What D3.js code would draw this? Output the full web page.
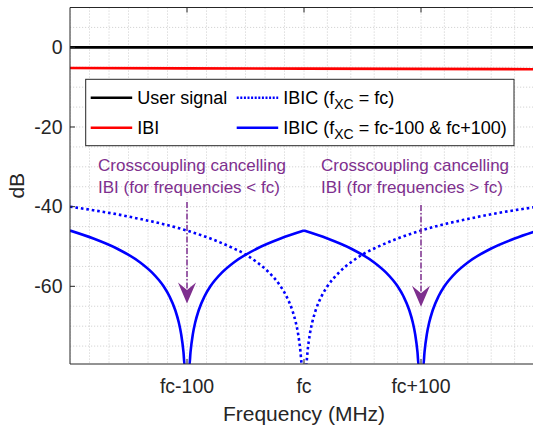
<!DOCTYPE html>
<html>
<head>
<meta charset="utf-8">
<script src="https://cdn.jsdelivr.net/npm/d3@7"></script>
<style>
  body { margin: 0; background: #fff; }
  text { font-family: "Liberation Sans", Arial, Helvetica, sans-serif; }
</style>
</head>
<body>
<script>
// Frequency offset from fc (MHz) and level (dB)
const userFreq = [-200, 200];
const userDb = [0, 0];

const ibiFreq = [-200, 0, 200];
const ibiDb = [-5.2, -5.35, -5.5];

// IBIC, crosscoupling at fc (dotted)
const ibicFcFreq = [-200, -180, -160, -140, -120, -100, -80, -60, -50, -40, -30, -20, -15, -10, -7, -5, -3, -2,
  2, 3, 5, 7, 10, 15, 20, 30, 40, 50, 60, 80, 100, 120, 140, 160, 180, 200];
const ibicFcDb = [-40.0, -40.9, -41.9, -43.1, -44.4, -46.0, -48.0, -50.5, -52.0, -54.0, -56.5, -60.0, -62.5, -66.0, -69.1, -72.0, -76.5, -80.0,
  -80.0, -76.5, -72.0, -69.1, -66.0, -62.5, -60.0, -56.5, -54.0, -52.0, -50.5, -48.0, -46.0, -44.4, -43.1, -41.9, -40.9, -40.0];

// IBIC, crosscoupling at fc-100 & fc+100 (solid)
const ibicSideFreq = [-200, -180, -160, -140, -130, -120, -115, -110, -107, -105, -103, -102, -98, -97, -95, -93, -90, -85, -80, -70, -60, -40, -20, 0,
  20, 40, 60, 70, 80, 85, 90, 93, 95, 97, 98, 102, 103, 105, 107, 110, 115, 120, 130, 140, 160, 180, 200];
const ibicSideDb = [-46.0, -48.0, -50.5, -54.0, -56.5, -60.0, -62.5, -66.0, -69.1, -72.0, -76.5, -80.0, -80.0, -76.5, -72.0, -69.1, -66.0, -62.5, -60.0, -56.5, -54.0, -50.5, -48.0, -46.0,
  -48.0, -50.5, -54.0, -56.5, -60.0, -62.5, -66.0, -69.1, -72.0, -76.5, -80.0, -80.0, -76.5, -72.0, -69.1, -66.0, -62.5, -60.0, -56.5, -54.0, -50.5, -48.0, -46.0];

const xTickValues = [-100, 0, 100];
const xTickLabels = ["fc-100", "fc", "fc+100"];
const yTickValues = [0, -20, -40, -60];

// Annotations: arrow position (MHz) and arrow start / tip (dB)
const noteText = [
  ["Crosscoupling cancelling", "IBI (for frequencies < fc)"],
  ["Crosscoupling cancelling", "IBI (for frequencies > fc)"]
];
const noteArrowFreq = [-100, 100];
const noteArrowFrom = [-38.8, -39.6];
const noteArrowTo = [-64.3, -65.1];

const purple = "#7E2F8E";
const blue = "#0000FF";
const axisColor = "#262626";

// Plot area
const W = 533, H = 430;
const plot = { left: 70, right: 538, top: 7.5, bottom: 364 };

const svg = d3.select("body")
  .append("svg")
  .attr("width", W)
  .attr("height", H);

const x = d3.scaleLinear().domain([-200, 200]).range([plot.left, plot.right]);
const y = d3.scaleLinear().domain([-79.5, 10]).range([plot.bottom, plot.top]);

svg.append("defs")
  .append("clipPath")
  .attr("id", "clip")
  .append("rect")
  .attr("x", plot.left)
  .attr("y", plot.top)
  .attr("width", plot.right - plot.left)
  .attr("height", plot.bottom - plot.top);

// Dotted grid (minor spacing differs on each side of fc in the original)
const xGrid = d3.range(-200, -0.1, 100 / 6).concat(d3.range(0, 201, 20));
const yGrid = d3.range(-75, 10, 5);

const grid = svg.append("g")
  .attr("clip-path", "url(#clip)")
  .style("stroke", "#c9c9c9")
  .style("stroke-width", 0.8)
  .style("stroke-dasharray", "1.2,1.8");

grid.selectAll(".gx")
  .data(xGrid)
  .enter()
  .append("line")
  .attr("x1", (d) => x(d))
  .attr("x2", (d) => x(d))
  .attr("y1", plot.top)
  .attr("y2", plot.bottom);

grid.selectAll(".gy")
  .data(yGrid)
  .enter()
  .append("line")
  .attr("x1", plot.left)
  .attr("x2", plot.right)
  .attr("y1", (d) => y(d))
  .attr("y2", (d) => y(d));

// Lines
const toPoints = (fs, vs) => fs.map((f, i) => ({ f: f, v: vs[i] }));
const line = d3.line().x((d) => x(d.f)).y((d) => y(d.v)).curve(d3.curveMonotoneX);
const lines = svg.append("g").attr("clip-path", "url(#clip)").style("fill", "none");

const drawCurve = (pts, color, dash) => {
  lines.append("path")
    .datum(pts)
    .attr("d", line)
    .style("stroke", color)
    .style("stroke-width", 2.6)
    .style("stroke-dasharray", dash);
};

drawCurve(toPoints(userFreq, userDb), "#000", null);
drawCurve(toPoints(ibiFreq, ibiDb), "#FF0000", null);

// split the curves at fc so the cusp stays sharp
const fcPts = toPoints(ibicFcFreq, ibicFcDb);
drawCurve(fcPts.filter((d) => d.f < 0), blue, "2.6,2.9");
drawCurve(fcPts.filter((d) => d.f > 0), blue, "2.6,2.9");

const sidePts = toPoints(ibicSideFreq, ibicSideDb);
drawCurve(sidePts.filter((d) => d.f <= 0), blue, null);
drawCurve(sidePts.filter((d) => d.f >= 0), blue, null);

// Annotations
const noteX = [98, 321];
noteText.forEach((lns, i) => {
  const t = svg.append("text")
    .attr("x", noteX[i])
    .attr("y", 170.7)
    .style("font-size", "17px")
    .style("fill", purple);
  lns.forEach((s, j) => {
    t.append("tspan").attr("x", noteX[i]).attr("dy", j === 0 ? 0 : 22).text(s);
  });

  const ax = x(noteArrowFreq[i]);
  const tip = y(noteArrowTo[i]);
  svg.append("line")
    .attr("x1", ax)
    .attr("x2", ax)
    .attr("y1", y(noteArrowFrom[i]))
    .attr("y2", tip - 14)
    .style("stroke", purple)
    .style("stroke-width", 1.5)
    .style("stroke-dasharray", "6,2,1.5,2");
  svg.append("path")
    .attr("d", `M${ax},${tip} L${ax - 9},${tip - 21} L${ax},${tip - 13.5} L${ax + 9},${tip - 21} Z`)
    .style("fill", purple);
});

// Legend
const legend = svg.append("g");
legend.append("rect")
  .attr("x", 85.7)
  .attr("y", 79.3)
  .attr("width", 428.3)
  .attr("height", 66.4)
  .style("fill", "#fff")
  .style("stroke", axisColor)
  .style("stroke-width", 1);

const legendItems = [
  { color: "#000", dash: null, x: 90.7, y: 97.7, parts: ["User signal"] },
  { color: "#FF0000", dash: null, x: 90.7, y: 127.7, parts: ["IBI"] },
  { color: blue, dash: "2,1.6", x: 236.7, y: 97.7, parts: ["IBIC (f", "XC", " = fc)"] },
  { color: blue, dash: null, x: 236.7, y: 127.7, parts: ["IBIC (f", "XC", " = fc-100 & fc+100)"] }
];

legendItems.forEach((d) => {
  legend.append("line")
    .attr("x1", d.x)
    .attr("x2", d.x + 41.5)
    .attr("y1", d.y)
    .attr("y2", d.y)
    .style("stroke", d.color)
    .style("stroke-width", 2.6)
    .style("stroke-dasharray", d.dash);
  const t = legend.append("text")
    .attr("x", d.x + 46.5)
    .attr("y", d.y + 6.3)
    .style("font-size", "18px")
    .style("fill", "#000");
  d.parts.forEach((p, i) => {
    const sp = t.append("tspan").text(p).attr("xml:space", "preserve").style("white-space", "pre");
    if (i === 1) sp.style("font-size", "14px").attr("dy", 4.5);
    if (i === 2) sp.attr("dy", -4.5);
  });
});

// Axes box and ticks
const axes = svg.append("g").style("stroke", axisColor).style("stroke-width", 1);
axes.append("line").attr("x1", plot.left).attr("x2", plot.right).attr("y1", plot.top).attr("y2", plot.top);
axes.append("line").attr("x1", plot.left).attr("x2", plot.right).attr("y1", plot.bottom).attr("y2", plot.bottom);
axes.append("line").attr("x1", plot.left).attr("x2", plot.left).attr("y1", plot.top).attr("y2", plot.bottom);

xTickValues.forEach((v) => {
  axes.append("line").attr("x1", x(v)).attr("x2", x(v)).attr("y1", plot.bottom).attr("y2", plot.bottom - 5);
  axes.append("line").attr("x1", x(v)).attr("x2", x(v)).attr("y1", plot.top).attr("y2", plot.top + 5);
});
yTickValues.forEach((v) => {
  axes.append("line").attr("x1", plot.left).attr("x2", plot.left + 5).attr("y1", y(v)).attr("y2", y(v));
});

svg.selectAll(".xlab")
  .data(xTickValues)
  .enter()
  .append("text")
  .attr("x", (d) => x(d))
  .attr("y", 393.3)
  .attr("text-anchor", "middle")
  .style("font-size", "19.5px")
  .style("fill", axisColor)
  .text((d, i) => xTickLabels[i]);

svg.selectAll(".ylab")
  .data(yTickValues)
  .enter()
  .append("text")
  .attr("x", 62.5)
  .attr("y", (d) => y(d))
  .attr("dy", "0.35em")
  .attr("text-anchor", "end")
  .style("font-size", "19.5px")
  .style("fill", axisColor)
  .text((d) => d);

// Axis titles
svg.append("text")
  .attr("x", (plot.left + plot.right) / 2)
  .attr("y", 420.7)
  .attr("text-anchor", "middle")
  .style("font-size", "21px")
  .style("fill", axisColor)
  .text("Frequency (MHz)");

svg.append("text")
  .attr("transform", `translate(23.5, ${(plot.top + plot.bottom) / 2}) rotate(-90)`)
  .attr("text-anchor", "middle")
  .style("font-size", "21px")
  .style("fill", axisColor)
  .text("dB");
</script>
</body>
</html>
